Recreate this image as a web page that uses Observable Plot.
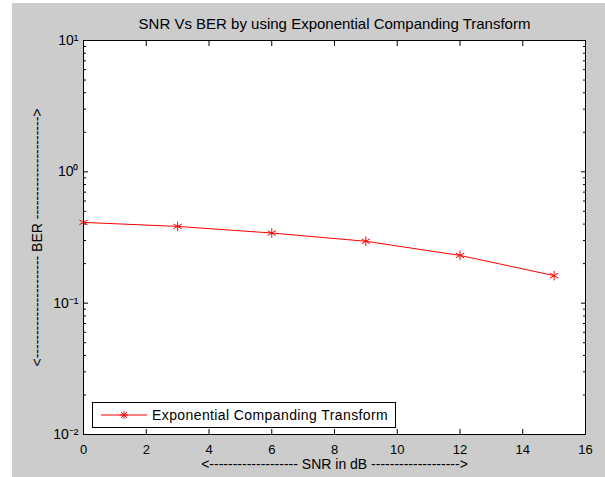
<!DOCTYPE html>
<html>
<head>
<meta charset="utf-8">
<script src="https://cdn.jsdelivr.net/npm/d3@7"></script>
<script src="https://cdn.jsdelivr.net/npm/@observablehq/plot@0.6"></script>
<style>
  html, body { margin: 0; padding: 0; background: #ffffff; }
  body { width: 605px; height: 477px; position: relative; overflow: hidden; font-family: "Liberation Sans", Arial, sans-serif; }
  #fig { position: absolute; left: 12px; top: 3px; width: 593px; height: 474px; background: #cccccc; }
  #legend { position: absolute; left: 92px; top: 402px; width: 304px; height: 26px; box-sizing: border-box;
            border: 1px solid #000; background: #fff; font-size: 14px; color: #000; }
  #legend svg { position: absolute; left: 0; top: 0; }
  #legend span { position: absolute; left: 59px; top: 4px; white-space: nowrap; letter-spacing: 0.4px; }
</style>
</head>
<body>
<div id="fig"></div>
<div id="legend"></div>
<script>
// ---- data ----
const snr = [0, 3, 6, 9, 12, 15];
const ber = [0.412, 0.384, 0.342, 0.296, 0.231, 0.162];
const seriesName = "Exponential Companding Transform";
const xTicks = [0, 2, 4, 6, 8, 10, 12, 14, 16];
const yTicks = [0.01, 0.1, 1, 10];
const yTickLabels = ["10\u207B\u00B2", "10\u207B\u00B9", "10\u2070", "10\u00B9"];
const titleText = "SNR Vs BER by using Exponential Companding Transform";
const xLabelText = "<------------------- SNR in dB ------------------->";
const yLabelText = "<---------------------- BER ---------------------->";

const data = snr.map((s, i) => ({snr: s, ber: ber[i]}));
const yMinor = d3.scaleLog().domain([0.01, 10]).ticks().filter(t => !yTicks.some(m => Math.abs(m - t) < 1e-12));
const font = "Liberation Sans, Arial, sans-serif";

const chart = Plot.plot({
  width: 593,
  height: 474,
  marginLeft: 71,
  marginRight: 20,
  marginTop: 37,
  marginBottom: 43,
  style: {background: "transparent", fontFamily: font, fontSize: "14px", color: "#000"},
  x: {type: "linear", domain: [0, 16]},
  y: {type: "log", domain: [0.01, 10]},
  marks: [
    Plot.frame({fill: "white", stroke: null}),
    // tick labels
    Plot.axisX({anchor: "bottom", ticks: xTicks, tickSize: 0, tickPadding: 10, fontSize: 13, label: null}),
    Plot.axisY({anchor: "left", ticks: yTicks, tickSize: 0, tickPadding: 5, fontSize: 14, label: null,
                tickFormat: (d) => yTickLabels[yTicks.indexOf(d)]}),
    // inward ticks
    Plot.axisX({anchor: "bottom", ticks: xTicks, tickSize: -5, tickFormat: () => "", label: null}),
    Plot.axisX({anchor: "top", ticks: xTicks, tickSize: -5, tickFormat: () => "", label: null}),
    Plot.axisY({anchor: "left", ticks: yTicks, tickSize: -5, tickFormat: () => "", label: null}),
    Plot.axisY({anchor: "right", ticks: yTicks, tickSize: -5, tickFormat: () => "", label: null}),
    Plot.axisY({anchor: "left", ticks: yMinor, tickSize: -3, tickFormat: () => "", label: null}),
    Plot.axisY({anchor: "right", ticks: yMinor, tickSize: -3, tickFormat: () => "", label: null}),
    // series
    Plot.line(data, {x: "snr", y: "ber", stroke: "#ff0000", strokeWidth: 1}),
    Plot.dot(data, {x: "snr", y: "ber", symbol: "asterisk", r: 4.5, stroke: "#ff0000", strokeWidth: 1}),
    // texts
    Plot.text([titleText], {text: d => d, frameAnchor: "top", lineAnchor: "middle", dy: -16, fontSize: 15, fill: "#000"}),
    Plot.text([xLabelText], {text: d => d, frameAnchor: "bottom", lineAnchor: "middle", dy: 30, fontSize: 14, fill: "#000"}),
    Plot.text([yLabelText], {text: d => d, frameAnchor: "left", textAnchor: "middle", lineAnchor: "middle", dx: -46, rotate: -90, fontSize: 14, fill: "#000"}),
    Plot.frame({stroke: "#000", strokeWidth: 1})
  ]
});
document.getElementById("fig").appendChild(chart);

// legend
const leg = document.getElementById("legend");
leg.innerHTML =
  '<svg width="60" height="24"><line x1="8" x2="54" y1="12" y2="12" stroke="#ff0000" stroke-width="1"/>' +
  '<g transform="translate(31,12)" stroke="#ff0000" stroke-width="1">' +
  '<line x1="-4" x2="4" y1="0" y2="0"/><line x1="0" x2="0" y1="-4" y2="4"/>' +
  '<line x1="-3" x2="3" y1="-3" y2="3"/><line x1="-3" x2="3" y1="3" y2="-3"/></g></svg>';
const sp = document.createElement("span");
sp.textContent = seriesName;
leg.appendChild(sp);
</script>
</body>
</html>
